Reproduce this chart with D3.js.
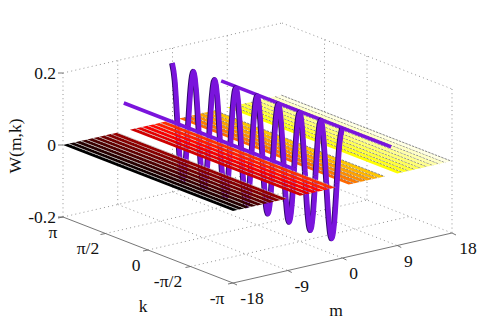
<!DOCTYPE html>
<html>
<head>
<meta charset="utf-8">
<script src="https://cdnjs.cloudflare.com/ajax/libs/d3/7.8.5/d3.min.js"></script>
<style>
html,body{margin:0;padding:0;background:#fff;}
text{font-family:"Liberation Serif",serif;font-size:17.5px;fill:#111;}
</style>
</head>
<body>
<script>
var width = 498, height = 320;
var PI = Math.PI;

// ticks
var mTicks = [-18,-9,0,9,18];
var mTickLabels = ["-18","-9","0","9","18"];
var kTicks = [PI,PI/2,0,-PI/2,-PI];
var kTickLabels = ["π","π/2","0","-π/2","-π"];
var zTicks = [0.2,0,-0.2];
var zTickLabels = ["0.2","0","-0.2"];

// start of each m cell in the flat sheet W=0 (m=-8,0,8 are missing)
var sheetCells = [-18,-17,-16,-15,-14,-13,-12,-11,-10,-7,-6,-5,-4,-3,-2,1,2,3,4,5,6,9,10,11,12,13,14,15,16,17];

// straight cuts at m=-8 and m=8
var lineMs = [-8,8];
var lineW = 0.078;

// oscillating cut at m=0, k from pi to -pi in steps of pi/32
var waveW = [
 0.158, 0.112, 0, -0.112, -0.158, -0.112, 0, 0.112,
 0.158, 0.112, 0, -0.112, -0.158, -0.112, 0, 0.112,
 0.158, 0.112, 0, -0.112, -0.158, -0.112, 0, 0.112,
 0.158, 0.112, 0, -0.112, -0.158, -0.112, 0, 0.112,
 0.159, 0.112, 0, -0.112, -0.158, -0.112, 0, 0.112,
 0.159, 0.112, 0, -0.112, -0.158, -0.112, 0, 0.112,
 0.159, 0.113, 0, -0.113, -0.158, -0.113, 0, 0.113,
 0.160, 0.113, 0, -0.113, -0.158, -0.113, 0, 0.113,
 0.160
];

var svg = d3.select("body").append("svg")
    .attr("width",width)
    .attr("height",height)
    .style("display","block");

// projection of the 3d box
var mx = d3.scaleLinear().domain([-18,18]).range([0,219]),
    my = d3.scaleLinear().domain([-18,18]).range([0,-50]),
    kx = d3.scaleLinear().domain([PI,-PI]).range([0,170]),
    ky = d3.scaleLinear().domain([PI,-PI]).range([0,66]),
    wy = d3.scaleLinear().domain([-0.2,0.2]).range([217,73]);
function px(m,k){ return 63+mx(m)+kx(k); }
function py(m,k,w){ return wy(w)+my(m)+ky(k); }

var heat = d3.scaleLinear()
    .domain([0,0.375,0.75,1])
    .range(["#000000","#ff0000","#ffff00","#ffffff"]);

function seg(x1,y1,x2,y2,cls){
    var l = svg.append("line").attr("x1",x1).attr("y1",y1).attr("x2",x2).attr("y2",y2);
    if(cls=="grid") l.attr("stroke","#888").attr("stroke-width",0.9).attr("stroke-dasharray","1 3.2");
    else l.attr("stroke","#666").attr("stroke-width",0.9);
    return l;
}

// floor grid
mTicks.slice(1).forEach(function(m){
    seg(px(m,PI),py(m,PI,-0.2),px(m,-PI),py(m,-PI,-0.2),"grid");
});
kTicks.slice(0,4).forEach(function(k){
    seg(px(-18,k),py(-18,k,-0.2),px(18,k),py(18,k,-0.2),"grid");
});
// back wall top and verticals
seg(px(-18,PI),py(-18,PI,0.2),px(18,PI),py(18,PI,0.2),"grid");
seg(px(18,PI),py(18,PI,0.2),px(18,-PI),py(18,-PI,0.2),"grid");
seg(px(-18,PI),py(-18,PI,0.2),px(-18,PI),py(-18,PI,-0.2),"grid");
seg(px(18,-PI),py(18,-PI,0.2),px(18,-PI),py(18,-PI,-0.2),"grid");
[-9,0,9].forEach(function(m){
    seg(px(m,PI),py(m,PI,0.2),px(m,PI),py(m,PI,-0.2),"grid");
});
[PI/2,0].forEach(function(k){
    seg(px(18,k),py(18,k,0.2),px(18,k),py(18,k,-0.2),"grid");
});

// box edges and ticks
seg(px(-18,PI),py(-18,PI,-0.2),px(-18,-PI),py(-18,-PI,-0.2),"axis");
seg(px(-18,-PI),py(-18,-PI,-0.2),px(18,-PI),py(18,-PI,-0.2),"axis");
kTicks.forEach(function(k){
    seg(px(-18,k),py(-18,k,-0.2),px(-18,k)-5,py(-18,k,-0.2)+1,"axis");
});
mTicks.forEach(function(m){
    seg(px(m,-PI),py(m,-PI,-0.2),px(m,-PI)+4,py(m,-PI,-0.2)+2,"axis");
});
zTicks.forEach(function(w){
    seg(px(-18,PI),py(-18,PI,w),px(-18,PI)-5,py(-18,PI,w),"axis");
});

var wavePts = waveW.map(function(w,i){ return {k:PI-i*PI/32,w:w}; });
var wave = d3.line()
    .x(function(d){ return px(0,d.k); })
    .y(function(d){ return py(0,d.k,d.w); })
    .curve(d3.curveMonotoneX);

function drawWave(test){
    var path = wave.defined(test)(wavePts);
    svg.append("path").attr("d",path).attr("fill","none")
        .attr("stroke","#2f0a66").attr("stroke-width",5.2)
        .attr("transform","translate(-0.8,0)");
    svg.append("path").attr("d",path).attr("fill","none")
        .attr("stroke","#7a14dc").attr("stroke-width",4.8);
}

// part of the wave below the sheet
drawWave(function(d){ return d.w<=0; });

// sheet, one ribbon per m cell with a hairline gap
sheetCells.forEach(function(m){
    var c = heat((m+18)/36);
    var m2 = m+0.84;
    var pts = [[m,PI],[m2,PI],[m2,-PI],[m,-PI]].map(function(p){
        return [px(p[0],p[1]),py(p[0],p[1],0)];
    });
    svg.append("polygon").attr("points",pts.join(" ")).attr("fill",c);
    seg(px(m+0.9,PI),py(m+0.9,PI,0),px(m+0.9,-PI),py(m+0.9,-PI,0),"axis")
        .attr("stroke",m<1?"#b4b4b4":"#6a6a6a").attr("stroke-width",0.8).attr("stroke-dasharray","2.5 1");
});

function drawLine(m){
    svg.append("line")
        .attr("x1",px(m,PI)).attr("y1",py(m,PI,lineW))
        .attr("x2",px(m,-PI)).attr("y2",py(m,-PI,lineW))
        .attr("stroke","#7a14dc").attr("stroke-width",3.6);
}
drawLine(lineMs[1]);
drawWave(function(d){ return d.w>=0; });
drawLine(lineMs[0]);

// labels, nudged off the ticks as in the original
var kLabelDx = [-10,-17.5,-12,-22.5,-16];
var mLabelDx = [19,14,11,11,16];
zTicks.forEach(function(w,i){
    svg.append("text").attr("x",56).attr("y",py(-18,PI,w)+6)
        .attr("text-anchor","end").text(zTickLabels[i]);
});
kTicks.forEach(function(k,i){
    svg.append("text").attr("x",px(-18,k)+kLabelDx[i]).attr("y",py(-18,k,-0.2)+20.5)
        .attr("text-anchor","middle").text(kTickLabels[i]);
});
mTicks.forEach(function(m,i){
    svg.append("text").attr("x",px(m,-PI)+mLabelDx[i]).attr("y",py(m,-PI,-0.2)+21)
        .attr("text-anchor","middle").text(mTickLabels[i]);
});
svg.append("text").attr("x",143).attr("y",312).attr("text-anchor","middle").text("k");
svg.append("text").attr("x",336).attr("y",316).attr("text-anchor","middle").text("m");
svg.append("text").attr("transform","translate(21,146) rotate(-90)")
    .attr("text-anchor","middle").text("W(m,k)");
</script>
</body>
</html>
